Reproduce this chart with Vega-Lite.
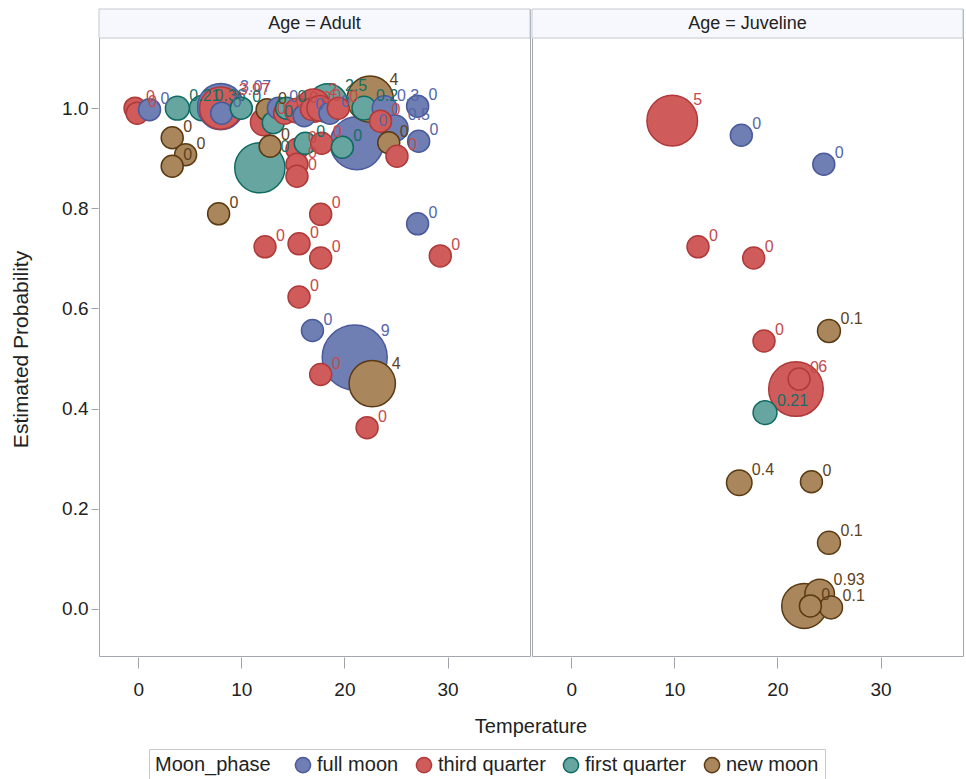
{
  "$schema": "https://vega.github.io/schema/vega-lite/v6.json",
  "background": "white",
  "padding": {"left": 10, "top": 8, "right": 4, "bottom": 0},
  "data": {
    "values": [
      {"Age": "Adult", "Temperature": 21.0, "Probability": 0.502, "Moon_phase": "full moon", "Size": 9, "Label": "9"},
      {"Age": "Adult", "Temperature": 21.2, "Probability": 0.93, "Moon_phase": "full moon", "Size": 5.6, "Label": "0"},
      {"Age": "Adult", "Temperature": 11.8, "Probability": 0.881, "Moon_phase": "first quarter", "Size": 4.9, "Label": "0"},
      {"Age": "Adult", "Temperature": 6.2, "Probability": 1.0, "Moon_phase": "first quarter", "Size": 0.36, "Label": "0.36"},
      {"Age": "Adult", "Temperature": 8.0, "Probability": 1.003, "Moon_phase": "full moon", "Size": 3.97, "Label": "3.07"},
      {"Age": "Adult", "Temperature": 8.0, "Probability": 1.0, "Moon_phase": "third quarter", "Size": 3.1, "Label": "3.97"},
      {"Age": "Adult", "Temperature": 22.5, "Probability": 1.018, "Moon_phase": "new moon", "Size": 4, "Label": "4"},
      {"Age": "Adult", "Temperature": 22.7, "Probability": 0.45, "Moon_phase": "new moon", "Size": 4, "Label": "4"},
      {"Age": "Adult", "Temperature": 18.4, "Probability": 1.01, "Moon_phase": "first quarter", "Size": 2.5, "Label": "2.5"},
      {"Age": "Adult", "Temperature": 17.0, "Probability": 1.005, "Moon_phase": "third quarter", "Size": 1.5, "Label": "2"},
      {"Age": "Adult", "Temperature": -0.3, "Probability": 1.0, "Moon_phase": "third quarter", "Size": 0, "Label": "0"},
      {"Age": "Adult", "Temperature": -0.1, "Probability": 0.99, "Moon_phase": "third quarter", "Size": 0, "Label": "0"},
      {"Age": "Adult", "Temperature": 1.1, "Probability": 0.997, "Moon_phase": "full moon", "Size": 0, "Label": "0"},
      {"Age": "Adult", "Temperature": 3.8, "Probability": 1.0, "Moon_phase": "first quarter", "Size": 0.21, "Label": "0.21"},
      {"Age": "Adult", "Temperature": 8.1, "Probability": 0.99, "Moon_phase": "full moon", "Size": 0, "Label": "0"},
      {"Age": "Adult", "Temperature": 10.0, "Probability": 1.0, "Moon_phase": "first quarter", "Size": 0, "Label": "0"},
      {"Age": "Adult", "Temperature": 3.3, "Probability": 0.941, "Moon_phase": "new moon", "Size": 0, "Label": "0"},
      {"Age": "Adult", "Temperature": 4.6, "Probability": 0.907, "Moon_phase": "new moon", "Size": 0, "Label": "0"},
      {"Age": "Adult", "Temperature": 3.3, "Probability": 0.884, "Moon_phase": "new moon", "Size": 0, "Label": "0"},
      {"Age": "Adult", "Temperature": 7.8, "Probability": 0.789, "Moon_phase": "new moon", "Size": 0, "Label": "0"},
      {"Age": "Adult", "Temperature": 12.2, "Probability": 0.972, "Moon_phase": "third quarter", "Size": 0.6, "Label": "0"},
      {"Age": "Adult", "Temperature": 12.5, "Probability": 0.997, "Moon_phase": "new moon", "Size": 0, "Label": "0"},
      {"Age": "Adult", "Temperature": 13.1, "Probability": 0.971, "Moon_phase": "first quarter", "Size": 0, "Label": "0"},
      {"Age": "Adult", "Temperature": 12.8, "Probability": 0.924, "Moon_phase": "new moon", "Size": 0, "Label": "0"},
      {"Age": "Adult", "Temperature": 13.6, "Probability": 1.0, "Moon_phase": "full moon", "Size": 0, "Label": "0"},
      {"Age": "Adult", "Temperature": 14.2, "Probability": 0.99, "Moon_phase": "third quarter", "Size": 0, "Label": "0"},
      {"Age": "Adult", "Temperature": 14.4, "Probability": 1.0, "Moon_phase": "first quarter", "Size": 0, "Label": "0"},
      {"Age": "Adult", "Temperature": 15.4, "Probability": 0.995, "Moon_phase": "third quarter", "Size": 0.3, "Label": "0"},
      {"Age": "Adult", "Temperature": 16.1, "Probability": 0.985, "Moon_phase": "full moon", "Size": 0, "Label": "0"},
      {"Age": "Adult", "Temperature": 16.8, "Probability": 0.998, "Moon_phase": "third quarter", "Size": 0, "Label": "0"},
      {"Age": "Adult", "Temperature": 17.6, "Probability": 1.0, "Moon_phase": "third quarter", "Size": 0.4, "Label": "0"},
      {"Age": "Adult", "Temperature": 18.6, "Probability": 0.99, "Moon_phase": "full moon", "Size": 0, "Label": "0"},
      {"Age": "Adult", "Temperature": 19.4, "Probability": 1.0, "Moon_phase": "third quarter", "Size": 0, "Label": "0"},
      {"Age": "Adult", "Temperature": 15.4, "Probability": 0.918, "Moon_phase": "third quarter", "Size": 0, "Label": "0"},
      {"Age": "Adult", "Temperature": 15.4, "Probability": 0.888, "Moon_phase": "third quarter", "Size": 0, "Label": "0"},
      {"Age": "Adult", "Temperature": 15.4, "Probability": 0.864, "Moon_phase": "third quarter", "Size": 0, "Label": "0"},
      {"Age": "Adult", "Temperature": 16.2, "Probability": 0.93, "Moon_phase": "first quarter", "Size": 0, "Label": "0"},
      {"Age": "Adult", "Temperature": 17.8, "Probability": 0.93, "Moon_phase": "third quarter", "Size": 0, "Label": "0"},
      {"Age": "Adult", "Temperature": 19.8, "Probability": 0.922, "Moon_phase": "first quarter", "Size": 0, "Label": "0"},
      {"Age": "Adult", "Temperature": 21.9, "Probability": 1.0, "Moon_phase": "first quarter", "Size": 0.2, "Label": "0.2"},
      {"Age": "Adult", "Temperature": 23.9, "Probability": 1.0, "Moon_phase": "full moon", "Size": 0.3, "Label": "0.3"},
      {"Age": "Adult", "Temperature": 24.9, "Probability": 0.96, "Moon_phase": "full moon", "Size": 0.5, "Label": "0.5"},
      {"Age": "Adult", "Temperature": 23.5, "Probability": 0.974, "Moon_phase": "third quarter", "Size": 0, "Label": "0"},
      {"Age": "Adult", "Temperature": 24.3, "Probability": 0.931, "Moon_phase": "new moon", "Size": 0, "Label": "0"},
      {"Age": "Adult", "Temperature": 25.1, "Probability": 0.904, "Moon_phase": "third quarter", "Size": 0, "Label": "0"},
      {"Age": "Adult", "Temperature": 27.1, "Probability": 1.004, "Moon_phase": "full moon", "Size": 0, "Label": "0"},
      {"Age": "Adult", "Temperature": 27.2, "Probability": 0.934, "Moon_phase": "full moon", "Size": 0, "Label": "0"},
      {"Age": "Adult", "Temperature": 17.7, "Probability": 0.788, "Moon_phase": "third quarter", "Size": 0, "Label": "0"},
      {"Age": "Adult", "Temperature": 27.1, "Probability": 0.769, "Moon_phase": "full moon", "Size": 0, "Label": "0"},
      {"Age": "Adult", "Temperature": 12.3, "Probability": 0.723, "Moon_phase": "third quarter", "Size": 0, "Label": "0"},
      {"Age": "Adult", "Temperature": 15.6, "Probability": 0.729, "Moon_phase": "third quarter", "Size": 0, "Label": "0"},
      {"Age": "Adult", "Temperature": 17.7, "Probability": 0.701, "Moon_phase": "third quarter", "Size": 0, "Label": "0"},
      {"Age": "Adult", "Temperature": 29.3, "Probability": 0.705, "Moon_phase": "third quarter", "Size": 0, "Label": "0"},
      {"Age": "Adult", "Temperature": 15.6, "Probability": 0.623, "Moon_phase": "third quarter", "Size": 0, "Label": "0"},
      {"Age": "Adult", "Temperature": 16.9, "Probability": 0.556, "Moon_phase": "full moon", "Size": 0, "Label": "0"},
      {"Age": "Adult", "Temperature": 17.7, "Probability": 0.468, "Moon_phase": "third quarter", "Size": 0, "Label": "0"},
      {"Age": "Adult", "Temperature": 22.2, "Probability": 0.362, "Moon_phase": "third quarter", "Size": 0, "Label": "0"},
      {"Age": "Juveline", "Temperature": 9.8, "Probability": 0.975, "Moon_phase": "third quarter", "Size": 5, "Label": "5"},
      {"Age": "Juveline", "Temperature": 21.8, "Probability": 0.439, "Moon_phase": "third quarter", "Size": 6, "Label": "6"},
      {"Age": "Juveline", "Temperature": 22.6, "Probability": 0.006, "Moon_phase": "new moon", "Size": 3.7, "Label": ""},
      {"Age": "Juveline", "Temperature": 16.5, "Probability": 0.946, "Moon_phase": "full moon", "Size": 0, "Label": "0"},
      {"Age": "Juveline", "Temperature": 24.5, "Probability": 0.888, "Moon_phase": "full moon", "Size": 0, "Label": "0"},
      {"Age": "Juveline", "Temperature": 12.3, "Probability": 0.723, "Moon_phase": "third quarter", "Size": 0, "Label": "0"},
      {"Age": "Juveline", "Temperature": 17.7, "Probability": 0.701, "Moon_phase": "third quarter", "Size": 0, "Label": "0"},
      {"Age": "Juveline", "Temperature": 25.0, "Probability": 0.555, "Moon_phase": "new moon", "Size": 0.1, "Label": "0.1"},
      {"Age": "Juveline", "Temperature": 18.7, "Probability": 0.535, "Moon_phase": "third quarter", "Size": 0, "Label": "0"},
      {"Age": "Juveline", "Temperature": 22.1, "Probability": 0.459, "Moon_phase": "third quarter", "Size": 0, "Label": "0"},
      {"Age": "Juveline", "Temperature": 18.8, "Probability": 0.392, "Moon_phase": "first quarter", "Size": 0.21, "Label": "0.21"},
      {"Age": "Juveline", "Temperature": 16.3, "Probability": 0.252, "Moon_phase": "new moon", "Size": 0.4, "Label": "0.4"},
      {"Age": "Juveline", "Temperature": 23.3, "Probability": 0.254, "Moon_phase": "new moon", "Size": 0, "Label": "0"},
      {"Age": "Juveline", "Temperature": 25.0, "Probability": 0.132, "Moon_phase": "new moon", "Size": 0.1, "Label": "0.1"},
      {"Age": "Juveline", "Temperature": 24.1, "Probability": 0.03, "Moon_phase": "new moon", "Size": 0.93, "Label": "0.93"},
      {"Age": "Juveline", "Temperature": 25.2, "Probability": 0.003, "Moon_phase": "new moon", "Size": 0.1, "Label": "0.1"},
      {"Age": "Juveline", "Temperature": 23.2, "Probability": 0.006, "Moon_phase": "new moon", "Size": 0, "Label": "0"}
    ]
  },
  "facet": {
    "column": {
      "field": "Age", "type": "nominal",
      "header": {"title": "Temperature", "titleOrient": "bottom", "labels": false, "titleFont": "Liberation Sans", "titleFontSize": 20, "titleFontWeight": "normal", "titleColor": "#222222", "titlePadding": 8}
    }
  },
  "spacing": 0,
  "spec": {
    "width": 431,
    "height": 647,
    "layer": [
      {
        "transform": [{"aggregate": [{"op": "count", "as": "n"}], "groupby": ["Age"]}],
        "mark": {"type": "rect", "fill": "#f7f8fd", "stroke": "#c3c7cf", "strokeWidth": 1},
        "encoding": {
          "y": {"datum": 1.14, "type": "quantitative"},
          "y2": {"datum": 1.198}
        }
      },
      {
        "transform": [{"aggregate": [{"op": "count", "as": "n"}], "groupby": ["Age"]}],
        "mark": {"type": "text", "font": "Liberation Sans", "fontSize": 18, "color": "#222222", "align": "center", "baseline": "middle"},
        "encoding": {
          "y": {"datum": 1.169, "type": "quantitative"},
          "text": {"condition": {"test": "datum.Age === 'Adult'", "value": "Age = Adult"}, "value": "Age = Juveline"}
        }
      },
      {
        "mark": {"type": "circle", "opacity": 1, "strokeWidth": 1.5},
        "encoding": {
          "x": {
            "field": "Temperature", "type": "quantitative",
            "scale": {"domain": [-3.8, 38], "nice": false, "zero": false},
            "axis": {"values": [0, 10, 20, 30], "title": null, "grid": false, "domain": false}
          },
          "y": {
            "field": "Probability", "type": "quantitative",
            "scale": {"domain": [-0.094, 1.198], "nice": false, "zero": false},
            "axis": {"values": [0, 0.2, 0.4, 0.6, 0.8, 1.0], "format": ".1f", "title": "Estimated Probability", "titleY": 340, "titleFontSize": 21, "grid": false, "domain": false}
          },
          "size": {
            "field": "Size", "type": "quantitative",
            "scale": {"type": "linear", "domain": [0, 9], "range": [484, 4225], "zero": false},
            "legend": null
          },
          "color": {
            "field": "Moon_phase", "type": "nominal", "title": "Moon_phase",
            "scale": {"domain": ["full moon", "third quarter", "first quarter", "new moon"], "range": ["#6F7EB3", "#D05B5B", "#66A5A0", "#A9865B"]},
            "legend": {
              "orient": "none", "legendX": 50, "legendY": 740,
              "direction": "horizontal", "titleOrient": "left",
              "strokeColor": "#c8c8c8", "padding": 6,
              "symbolType": "circle", "symbolSize": 230, "symbolStrokeWidth": 1.5, "symbolStrokeColor": "#555555"
            }
          },
          "stroke": {
            "field": "Moon_phase", "type": "nominal", "legend": null,
            "scale": {"domain": ["full moon", "third quarter", "first quarter", "new moon"], "range": ["#4a5a9c", "#b03a3a", "#0e6b62", "#5a3a12"]}
          }
        }
      },
      {
        "mark": {"type": "text", "font": "Liberation Sans", "fontSize": 16, "align": "left", "baseline": "middle", "theta": 0.785},
        "encoding": {
          "x": {"field": "Temperature", "type": "quantitative"},
          "y": {"field": "Probability", "type": "quantitative"},
          "radius": {
            "field": "Size", "type": "quantitative",
            "scale": {"type": "pow", "exponent": 0.72, "domain": [0, 9], "range": [15.5, 37], "zero": false}
          },
          "text": {"field": "Label", "type": "nominal"},
          "fill": {
            "field": "Moon_phase", "type": "nominal", "legend": null,
            "scale": {"domain": ["full moon", "third quarter", "first quarter", "new moon"], "range": ["#5566aa", "#c44a4a", "#137066", "#5e4220"]}
          }
        }
      }
    ]
  },
  "config": {
    "font": "Liberation Sans",
    "view": {"stroke": "#a3a8b0", "strokeWidth": 1},
    "axis": {
      "labelFont": "Liberation Sans",
      "titleFont": "Liberation Sans",
      "labelFontSize": 19,
      "titleFontSize": 20,
      "titleFontWeight": "normal",
      "labelColor": "#222222",
      "titleColor": "#222222",
      "tickColor": "#a0a4aa",
      "ticks": true
    },
    "axisX": {"tickSize": 11, "labelPadding": 12, "titlePadding": 14},
    "axisY": {"tickSize": 7, "labelPadding": 3, "titlePadding": 30},
    "legend": {
      "labelFont": "Liberation Sans",
      "titleFont": "Liberation Sans",
      "labelFontSize": 20,
      "titleFontSize": 20,
      "titleFontWeight": "normal",
      "titleColor": "#222222",
      "labelColor": "#222222",
      "columnPadding": 14,
      "titlePadding": 22
    }
  }
}
